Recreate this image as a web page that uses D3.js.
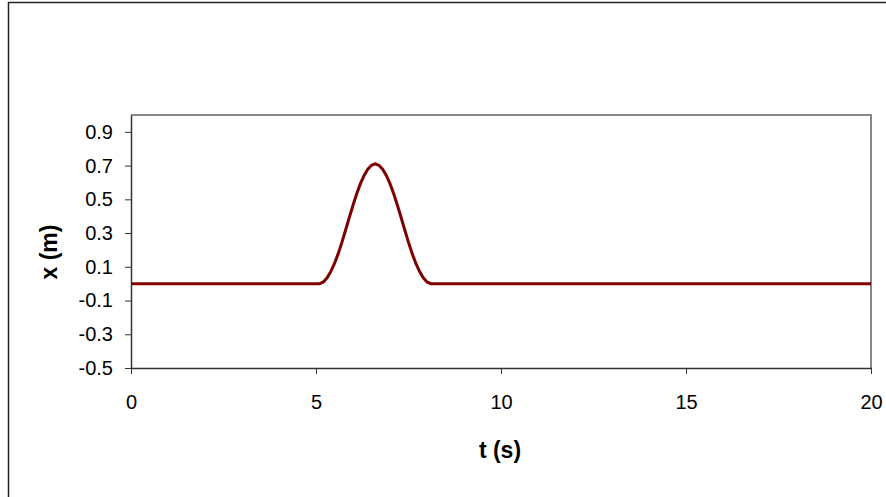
<!DOCTYPE html>
<html lang="en">
<head>
    <meta charset="UTF-8">
    <title>x (m) vs t (s)</title>
    <script src="https://d3js.org/d3.v7.min.js"></script>
    <style>
        body {
            margin: 0;
            font-family: "Liberation Sans", Arial, sans-serif;
            background: #fff;
        }
        svg {
            display: block;
        }
        .tick text {
            font-size: 20px;
        }
    </style>
</head>
<body>

    <div id="container"></div>

    <script>

        // data: time in s, position in m
        const timeS = [0, 5.1, 5.2, 5.3, 5.4, 5.5, 5.6, 5.7, 5.8, 5.9, 6.0,
                       6.1, 6.2, 6.3, 6.4, 6.5, 6.6, 6.7, 6.8, 6.9, 7.0,
                       7.1, 7.2, 7.3, 7.4, 7.5, 7.6, 7.7, 7.8, 7.9, 8.0, 8.1, 20];
        const posM = [0, 0, 0.01, 0.035, 0.072, 0.12, 0.178, 0.245, 0.318, 0.392, 0.465,
                      0.533, 0.593, 0.642, 0.679, 0.702, 0.71, 0.702, 0.679, 0.642, 0.593,
                      0.533, 0.465, 0.392, 0.318, 0.245, 0.178, 0.12, 0.072, 0.035, 0.01, 0, 0];

        const xTicks = [0, 5, 10, 15, 20];
        const yTicks = [-0.5, -0.3, -0.1, 0.1, 0.3, 0.5, 0.7, 0.9];

        const width = 886, height = 497;
        const plotLeft = 131, plotRight = 871, plotTop = 115, plotBottom = 368;

        const svg = d3.select('#container').append('svg')
            .attr('width', width)
            .attr('height', height);

        // outer chart frame (runs off right and bottom)
        svg.append('rect')
            .attr('x', 8.5).attr('y', 2.5)
            .attr('width', 1000).attr('height', 600)
            .attr('fill', 'none')
            .attr('stroke', '#222')
            .attr('stroke-width', 1.5);

        const x = d3.scaleLinear().domain([0, 20]).range([plotLeft, plotRight]);
        const y = d3.scaleLinear().domain([-0.5, 1.0]).range([plotBottom, plotTop]);

        // plot area: gray top/right edges
        svg.append('path')
            .attr('d', `M${plotLeft},${plotTop}H${plotRight}V${plotBottom}`)
            .attr('fill', 'none')
            .attr('stroke', '#888')
            .attr('stroke-width', 2);

        const xAxis = svg.append('g')
            .attr('transform', `translate(0,${plotBottom})`)
            .call(d3.axisBottom(x).tickValues(xTicks).tickSize(6).tickPadding(21).tickSizeOuter(0));

        const yAxis = svg.append('g')
            .attr('transform', `translate(${plotLeft},0)`)
            .call(d3.axisLeft(y).tickValues(yTicks).tickSize(6).tickPadding(12).tickSizeOuter(0)
                .tickFormat(d => d.toFixed(1)));

        [xAxis, yAxis].forEach(g => {
            g.attr('font-size', 20).attr('font-family', '"Liberation Sans", Arial, sans-serif');
            g.select('.domain').attr('stroke', '#333').attr('stroke-width', 1.5);
            g.selectAll('.tick line').attr('stroke', '#333');
            g.selectAll('.tick text').attr('fill', '#000');
        });

        // the curve
        const pts = timeS.map((t, i) => [t, posM[i]]);
        svg.append('path')
            .datum(pts)
            .attr('fill', 'none')
            .attr('stroke', '#800000')
            .attr('stroke-width', 3)
            .attr('d', d3.line().x(d => x(d[0])).y(d => y(d[1])));

        // axis titles
        svg.append('text')
            .attr('x', 500).attr('y', 458)
            .attr('text-anchor', 'middle')
            .style('font-weight', 'bold')
            .style('font-size', '23px')
            .text('t (s)');

        svg.append('text')
            .attr('transform', 'translate(57,252) rotate(-90)')
            .attr('text-anchor', 'middle')
            .style('font-weight', 'bold')
            .style('font-size', '23px')
            .text('x (m)');

    </script>

</body>
</html>
